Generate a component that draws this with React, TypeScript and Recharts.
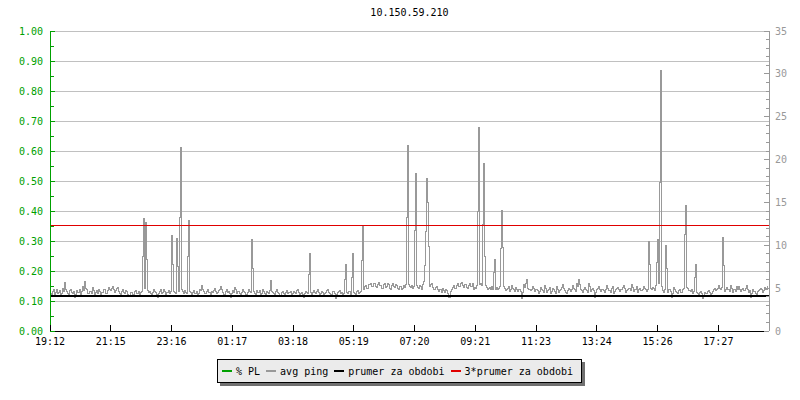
import { LineChart, Line, XAxis, YAxis, CartesianGrid, ReferenceLine } from 'recharts';

// avg ping samples, ms (right axis), ~2 min apart, 19:12 -> 19:10
const PING = [
    4.4, 4.3, 4.6, 4.8, 4.3, 4.5, 4.8, 4.4, 4.5, 4.7, 4.2, 4.4, 5.0, 4.6, 5.7, 4.9, 4.6, 4.4, 4.3, 4.7,
    4.9, 4.5, 4.4, 4.6, 3.9, 4.3, 4.7, 4.5, 4.5, 4.8, 4.3, 4.6, 5.2, 4.7, 5.8, 5.0, 4.8, 4.4, 4.4, 4.6,
    4.6, 4.4, 5.1, 4.7, 4.3, 4.5, 4.7, 4.4, 4.9, 4.6, 4.2, 4.5, 4.5, 4.8, 4.8, 4.4, 4.4, 4.7, 5.1, 4.8,
    4.7, 5.0, 5.2, 4.8, 4.5, 4.7, 5.0, 5.1, 4.6, 4.4, 4.3, 4.6, 4.9, 4.5, 4.4, 4.7, 4.6, 4.3, 4.2, 4.5,
    4.5, 4.3, 4.3, 4.6, 4.7, 4.4, 4.4, 4.6, 4.3, 4.5, 4.6, 8.7, 13.1, 5.0, 12.7, 8.3, 4.7, 4.5, 4.6, 4.4,
    4.3, 4.5, 4.9, 4.6, 4.5, 4.3, 3.9, 4.4, 4.6, 4.8, 4.4, 4.5, 4.8, 4.6, 4.3, 4.5, 4.5, 4.7, 4.4, 4.6,
    11.2, 7.8, 4.6, 4.5, 4.4, 10.8, 7.5, 4.6, 13.3, 21.4, 4.8, 4.6, 4.4, 4.7, 4.5, 4.4, 8.75, 12.95, 4.6, 4.5,
    4.3, 4.5, 4.7, 4.4, 4.4, 4.6, 4.2, 4.4, 4.9, 4.7, 5.3, 4.8, 4.6, 4.4, 4.4, 4.6, 4.8, 4.5, 4.3, 4.6,
    4.5, 4.7, 5.0, 4.6, 4.4, 4.5, 4.7, 4.9, 5.2, 4.8, 4.5, 4.3, 4.3, 4.6, 4.8, 4.5, 4.6, 4.4, 3.9, 4.4,
    4.7, 4.5, 5.1, 4.8, 4.4, 4.6, 4.6, 4.4, 4.3, 4.5, 4.9, 4.6, 4.5, 4.3, 4.2, 4.5, 4.8, 4.6, 4.5, 10.7,
    7.35, 4.6, 4.4, 4.3, 4.7, 4.5, 4.5, 4.7, 4.2, 4.4, 4.9, 4.6, 4.4, 4.3, 4.6, 4.5, 4.4, 4.7, 5.95, 4.6,
    4.5, 4.4, 4.3, 4.6, 4.8, 4.5, 4.4, 4.2, 4.2, 4.5, 4.6, 4.4, 4.3, 4.5, 4.7, 4.4, 4.5, 4.6, 4.2, 4.4,
    4.6, 4.5, 4.4, 4.7, 4.8, 4.5, 4.3, 4.4, 4.5, 4.3, 3.9, 4.4, 4.6, 4.5, 4.4, 6.65, 9.0, 4.5, 4.3, 4.5,
    4.7, 4.5, 4.4, 4.6, 4.9, 4.5, 4.3, 4.4, 4.6, 4.5, 4.2, 4.4, 4.5, 4.7, 4.8, 4.5, 4.4, 4.3, 4.3, 4.6,
    4.6, 4.4, 3.8, 4.3, 4.5, 4.6, 4.7, 4.4, 4.5, 4.3, 4.4, 6.05, 7.8, 4.5, 4.4, 4.6, 4.6, 4.3, 6.3, 9.0,
    4.5, 4.4, 4.3, 4.6, 4.7, 4.4, 4.5, 4.6, 8.2, 12.3, 4.9, 5.2, 5.3, 5.0, 5.0, 5.4, 5.6, 5.2, 5.2, 5.5,
    5.5, 5.2, 5.1, 5.4, 5.7, 5.3, 5.3, 5.0, 5.0, 5.4, 5.6, 5.1, 5.2, 5.5, 5.4, 5.0, 4.9, 5.3, 5.5, 5.2,
    5.1, 5.4, 5.3, 5.0, 4.8, 5.2, 5.2, 4.9, 5.0, 5.3, 5.1, 5.4, 13.3, 21.7, 5.4, 5.2, 5.1, 5.3, 5.0, 5.2,
    11.7, 18.4, 5.3, 5.1, 5.0, 5.3, 5.2, 4.9, 5.4, 5.8, 7.6, 11.6, 17.85, 15.05, 9.9, 5.2, 5.4, 5.5, 5.1, 4.9,
    4.9, 5.1, 5.2, 4.8, 4.6, 4.9, 4.8, 4.5, 5.0, 4.7, 4.5, 4.8, 4.7, 4.4, 3.9, 4.6, 4.9, 5.1, 5.3, 5.0,
    5.0, 5.3, 5.5, 5.2, 5.2, 5.6, 5.7, 5.3, 5.1, 5.4, 5.4, 5.1, 5.0, 5.3, 5.6, 5.2, 5.2, 5.5, 4.9, 5.1,
    5.0, 5.3, 14.0, 23.8, 5.4, 5.6, 5.3, 12.4, 19.6, 8.7, 5.3, 5.1, 4.8, 5.0, 5.1, 4.9, 5.2, 4.8, 6.8, 8.4,
    4.9, 5.1, 4.8, 5.0, 5.2, 9.6, 14.1, 9.7, 5.2, 5.0, 4.7, 4.9, 5.0, 5.2, 4.6, 4.8, 5.3, 5.0, 4.8, 4.6,
    5.1, 4.8, 4.6, 4.9, 4.9, 4.6, 3.8, 4.5, 5.4, 5.1, 5.5, 6.0, 5.0, 4.8, 4.7, 4.9, 5.2, 5.0, 4.6, 4.8,
    4.9, 4.7, 4.4, 4.6, 5.1, 4.8, 4.7, 4.5, 5.3, 5.0, 4.5, 4.7, 4.8, 5.1, 4.4, 4.6, 5.0, 4.8, 4.6, 4.4,
    5.2, 4.9, 4.5, 4.7, 4.9, 5.1, 5.4, 5.0, 4.7, 4.5, 4.4, 4.7, 5.0, 4.8, 4.6, 4.9, 5.3, 5.0, 4.8, 4.6,
    5.5, 5.2, 6.0, 5.4, 4.9, 4.7, 4.5, 4.8, 5.1, 4.9, 4.7, 4.5, 5.6, 5.2, 4.6, 4.8, 5.0, 4.7, 3.9, 4.5,
    4.8, 5.0, 5.2, 4.9, 4.6, 4.8, 4.9, 4.7, 4.5, 4.8, 5.3, 5.0, 4.7, 4.5, 5.0, 5.2, 4.4, 4.6, 4.8, 5.0,
    5.1, 4.8, 4.6, 4.9, 4.9, 5.1, 5.3, 5.0, 4.5, 4.7, 4.8, 5.0, 5.0, 4.7, 5.4, 5.1, 4.6, 4.8, 4.9, 5.2,
    4.5, 4.8, 5.0, 4.7, 4.7, 4.9, 5.2, 5.0, 4.8, 4.6, 4.9, 10.4, 7.8, 5.0, 4.8, 5.1, 5.0, 4.7, 5.3, 8.0,
    10.7, 5.6, 17.3, 30.45, 5.2, 4.7, 4.5, 4.9, 10.0, 7.35, 4.5, 4.8, 4.9, 4.6, 3.9, 4.4, 5.1, 4.8, 4.6, 4.5,
    4.4, 4.7, 4.8, 4.5, 4.5, 4.8, 5.0, 11.3, 14.6, 5.1, 5.0, 4.7, 4.6, 4.8, 4.4, 4.6, 6.3, 7.8, 4.5, 4.4,
    4.3, 4.5, 4.6, 4.4, 3.8, 4.2, 4.5, 4.4, 4.4, 4.6, 4.7, 4.5, 4.3, 4.4, 4.6, 4.8, 5.0, 4.7, 4.8, 5.0,
    5.3, 5.0, 4.9, 5.1, 10.95, 7.7, 4.6, 4.8, 5.1, 4.9, 4.8, 4.6, 5.3, 5.0, 4.5, 4.8, 4.9, 4.6, 5.2, 4.9,
    5.2, 4.8, 4.6, 4.9, 5.0, 4.7, 4.7, 5.0, 5.3, 4.9, 4.5, 4.7, 3.9, 4.4, 4.9, 4.6, 4.6, 4.4, 4.3, 4.6,
    4.7, 4.9, 5.0, 4.8, 4.5, 4.7, 5.1, 4.9, 4.8, 5.2,
];

const PRUMER = 4.12; // prumer za obdobi
const PRUMER_3X = 12.36;

const TIME_LABELS = ['19:12', '21:15', '23:16', '01:17', '03:18', '05:19', '07:20', '09:21', '11:23', '13:24', '15:26', '17:27'];
const X_TICKS = [0, 60, 120, 180, 240, 300, 360, 420, 480, 540, 600, 660];

const PL_TICKS = [0, 0.05, 0.1, 0.15, 0.2, 0.25, 0.3, 0.35, 0.4, 0.45, 0.5, 0.55, 0.6, 0.65, 0.7, 0.75, 0.8, 0.85, 0.9, 0.95, 1];
const GRID_VALUES = [0.1, 0.2, 0.3, 0.4, 0.5, 0.6, 0.7, 0.8, 0.9, 1];
const MS_TICKS = [0, 1, 2, 3, 4, 5, 6, 7, 8, 9, 10, 11, 12, 13, 14, 15, 16, 17, 18, 19, 20, 21, 22, 23, 24, 25, 26, 27, 28, 29, 30, 31, 32, 33, 34, 35];

const FONT = '"DejaVu Sans Mono", monospace';
const GREEN = '#00a000';
const GREY = '#999999';
const RED = '#e00000';

const data = PING.map((v, i) => ({ i, ping: v }));

function LeftTick({ x, y, payload }: any) {
    const major = Math.round(payload.value * 100) % 10 === 0;
    return (
        <g>
            <line x1={x} x2={x + (major ? 5 : 4)} y1={y} y2={y} stroke={GREEN} shapeRendering="crispEdges" />
            {major && (
                <text x={x - 7} y={y} dy="0.35em" textAnchor="end" fill={GREEN} fontSize={10} fontFamily={FONT}>
                    {payload.value.toFixed(2)}
                </text>
            )}
        </g>
    );
}

function RightTick({ x, y, payload }: any) {
    const major = payload.value % 5 === 0;
    return (
        <g>
            <line x1={x} x2={x - (major ? 5 : 3)} y1={y} y2={y} stroke={GREY} shapeRendering="crispEdges" />
            {major && (
                <text x={x + 6} y={y} dy="0.35em" textAnchor="start" fill={GREY} fontSize={10} fontFamily={FONT}>
                    {payload.value}
                </text>
            )}
        </g>
    );
}

function TimeTick({ x, y, index }: any) {
    return (
        <g>
            <line x1={x} x2={x} y1={y} y2={y - 6} stroke="#000" shapeRendering="crispEdges" />
            <text x={x} y={y + 10} dy="0.35em" textAnchor="middle" fill="#000" fontSize={10} fontFamily={FONT}>
                {TIME_LABELS[index]}
            </text>
        </g>
    );
}

const legendItems = [
    { name: '% PL', color: GREEN },
    { name: 'avg ping', color: GREY },
    { name: 'prumer za obdobi', color: '#000' },
    { name: '3*prumer za obdobi', color: RED },
];

export default function App() {
    return (
        <div style={{ position: 'relative', width: 800, height: 400, background: '#fff' }}>
            <style>{'body{margin:0} .recharts-line-curve, .recharts-cartesian-grid line, .recharts-reference-line line, .recharts-cartesian-axis-line { shape-rendering: crispEdges; }'}</style>
            <div style={{ position: 'absolute', top: 7, left: 0, width: 819, textAlign: 'center', fontFamily: FONT, fontSize: 10 }}>
                10.150.59.210
            </div>
            <LineChart width={800} height={400} data={data} margin={{ top: 31, right: 0, left: 0, bottom: 49 }}>
                <CartesianGrid vertical={false} stroke="#c0c0c0" yAxisId="pl" horizontalValues={GRID_VALUES} />
                <XAxis
                    dataKey="i"
                    type="number"
                    domain={[0, 710]}
                    ticks={X_TICKS}
                    height={20}
                    tickSize={0}
                    tickMargin={0}
                    tickLine={false}
                    axisLine={{ stroke: '#000' }}
                    tick={<TimeTick />}
                    interval={0}
                />
                <YAxis
                    yAxisId="pl"
                    orientation="left"
                    width={50}
                    type="number"
                    domain={[0, 1]}
                    allowDataOverflow
                    ticks={PL_TICKS}
                    interval={0}
                    tickSize={0}
                    tickMargin={0}
                    tickLine={false}
                    axisLine={{ stroke: GREEN }}
                    tick={<LeftTick />}
                />
                <YAxis
                    yAxisId="ms"
                    orientation="right"
                    width={31}
                    type="number"
                    domain={[0, 35]}
                    allowDataOverflow
                    ticks={MS_TICKS}
                    interval={0}
                    tickSize={0}
                    tickMargin={0}
                    tickLine={false}
                    axisLine={{ stroke: GREY }}
                    tick={<RightTick />}
                />
                <Line
                    yAxisId="ms"
                    type="stepAfter"
                    dataKey="ping"
                    stroke={GREY}
                    strokeWidth={1}
                    dot={false}
                    isAnimationActive={false}
                />
                <ReferenceLine yAxisId="ms" y={PRUMER_3X} stroke={RED} strokeWidth={1} />
                <ReferenceLine yAxisId="ms" y={PRUMER} stroke="#000" strokeWidth={2} />
            </LineChart>
            <div
                style={{
                    position: 'absolute',
                    left: 217,
                    top: 359,
                    height: 22,
                    padding: '0 8px 0 4px',
                    display: 'flex',
                    alignItems: 'center',
                    background: '#ebebeb',
                    border: '1px solid #000',
                    boxShadow: '3px 3px 0 #707070',
                    fontFamily: FONT,
                    fontSize: 10,
                    whiteSpace: 'nowrap',
                }}
            >
                {legendItems.map((item, k) => (
                    <span key={k} style={{ display: 'flex', alignItems: 'center', marginLeft: k === 0 ? 0 : 6 }}>
                        <span style={{ display: 'inline-block', width: 10, height: 2, background: item.color, marginRight: 4 }} />
                        {item.name}
                    </span>
                ))}
            </div>
        </div>
    );
}
